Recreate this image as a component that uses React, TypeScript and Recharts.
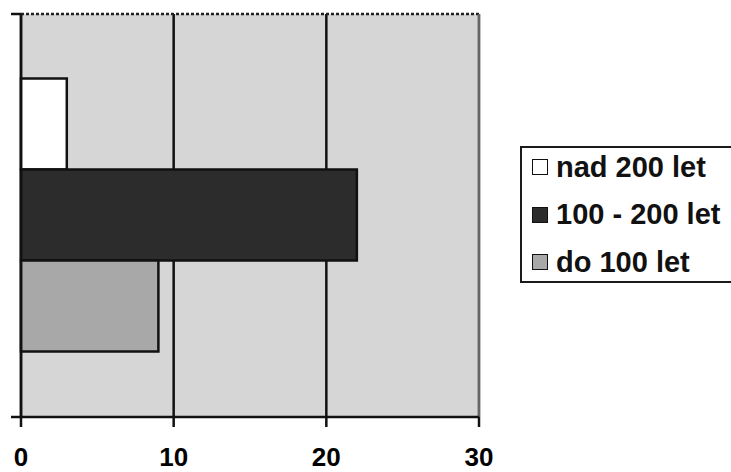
import React from "react";
import * as Recharts from "recharts";
import {
	BarChart,
	Bar,
	XAxis,
	YAxis,
	CartesianGrid,
	ReferenceLine,
	Legend,
} from "recharts";

const categories = [""];
const seriesNames = ["nad 200 let", "100 - 200 let", "do 100 let"];
const nad200 = [3];
const od100do200 = [22];
const do100 = [9];
const xTicks = [0, 10, 20, 30];

const COLORS = ["#ffffff", "#2c2c2c", "#a8a8a8"];
const FONT = "'Liberation Sans', Arial, sans-serif";
const WIDTH = 731;
const HEIGHT = 472;
const MARGIN = { top: 14, right: 252, left: 0, bottom: 0 };
const Y_AXIS_WIDTH = 21;
const X_AXIS_HEIGHT = 55;

const data = categories.map((name, i) => ({
	name,
	[seriesNames[0]]: nad200[i],
	[seriesNames[1]]: od100do200[i],
	[seriesNames[2]]: do100[i],
}));

// top dotted border + short ticks at the ends of the category axis
function PlotFrame() {
	const hook = (Recharts as any).usePlotArea;
	const area = hook
		? hook()
		: {
				x: MARGIN.left + Y_AXIS_WIDTH,
				y: MARGIN.top,
				width: WIDTH - MARGIN.left - MARGIN.right - Y_AXIS_WIDTH,
				height: HEIGHT - MARGIN.top - MARGIN.bottom - X_AXIS_HEIGHT,
		  };
	if (!area) return null;
	const { x, y, width, height } = area;
	return (
		<g>
			<line
				x1={x}
				x2={x + width}
				y1={y}
				y2={y}
				stroke="#222"
				strokeWidth={2.5}
				strokeDasharray="3 2"
			/>
			<line
				x1={x - 10}
				x2={x}
				y1={y}
				y2={y}
				stroke="#111"
				strokeWidth={2.5}
			/>
			<line
				x1={x - 10}
				x2={x}
				y1={y + height}
				y2={y + height}
				stroke="#111"
				strokeWidth={2.5}
			/>
		</g>
	);
}

const renderLegend = () => (
	<div
		style={{
			boxSizing: "border-box",
			width: 240,
			height: 137,
			borderTop: "2px solid #1a1a1a",
			borderBottom: "2px solid #1a1a1a",
			borderLeft: "2px solid #1a1a1a",
			background: "#fff",
			paddingLeft: 10,
			fontFamily: FONT,
			fontWeight: "bold",
			fontSize: 29,
			color: "#111",
		}}>
		{seriesNames.map((name, index) => (
			<div
				key={name}
				style={{
					display: "flex",
					alignItems: "center",
					height: 38,
					marginBottom: index < seriesNames.length - 1 ? 9.5 : 0,
					whiteSpace: "nowrap",
				}}>
				<div
					style={{
						width: 14,
						height: 14,
						border: "1.5px solid #111",
						background: COLORS[index],
						marginRight: 8,
						flexShrink: 0,
					}}
				/>
				<span>{name}</span>
			</div>
		))}
	</div>
);

export default function App() {
	return (
		<div
			style={{
				position: "absolute",
				left: 0,
				top: 0,
				width: WIDTH,
				height: HEIGHT,
				overflow: "hidden",
			}}>
			<BarChart
				width={WIDTH}
				height={HEIGHT}
				data={data}
				layout="vertical"
				margin={MARGIN}
				barCategoryGap="16%"
				barGap={0}>
				<CartesianGrid
					horizontal={false}
					fill="#d6d6d6"
					stroke="#111"
					strokeWidth={2.5}
				/>
				<XAxis
					type="number"
					domain={[0, 30]}
					ticks={xTicks}
					interval={0}
					height={X_AXIS_HEIGHT}
					tickSize={10}
					tickMargin={21}
					axisLine={{ stroke: "#111", strokeWidth: 2.5 }}
					tickLine={{ stroke: "#111", strokeWidth: 2.5 }}
					tick={{
						fill: "#000",
						fontSize: 26,
						fontWeight: "bold",
						fontFamily: FONT,
					}}
				/>
				<YAxis
					type="category"
					dataKey="name"
					width={Y_AXIS_WIDTH}
					tick={false}
					tickLine={false}
					axisLine={{ stroke: "#111", strokeWidth: 2.5 }}
				/>
				<ReferenceLine
					x={30}
					stroke="#666"
					strokeWidth={2}
				/>
				{seriesNames.map((name, index) => (
					<Bar
						key={name}
						dataKey={name}
						fill={COLORS[index]}
						stroke="#111"
						strokeWidth={2.5}
						isAnimationActive={false}
					/>
				))}
				<PlotFrame />
				<Legend
					layout="horizontal"
					align="center"
					verticalAlign="middle"
					content={renderLegend}
					wrapperStyle={{ left: 520, top: 146, width: 240 }}
				/>
			</BarChart>
		</div>
	);
}
